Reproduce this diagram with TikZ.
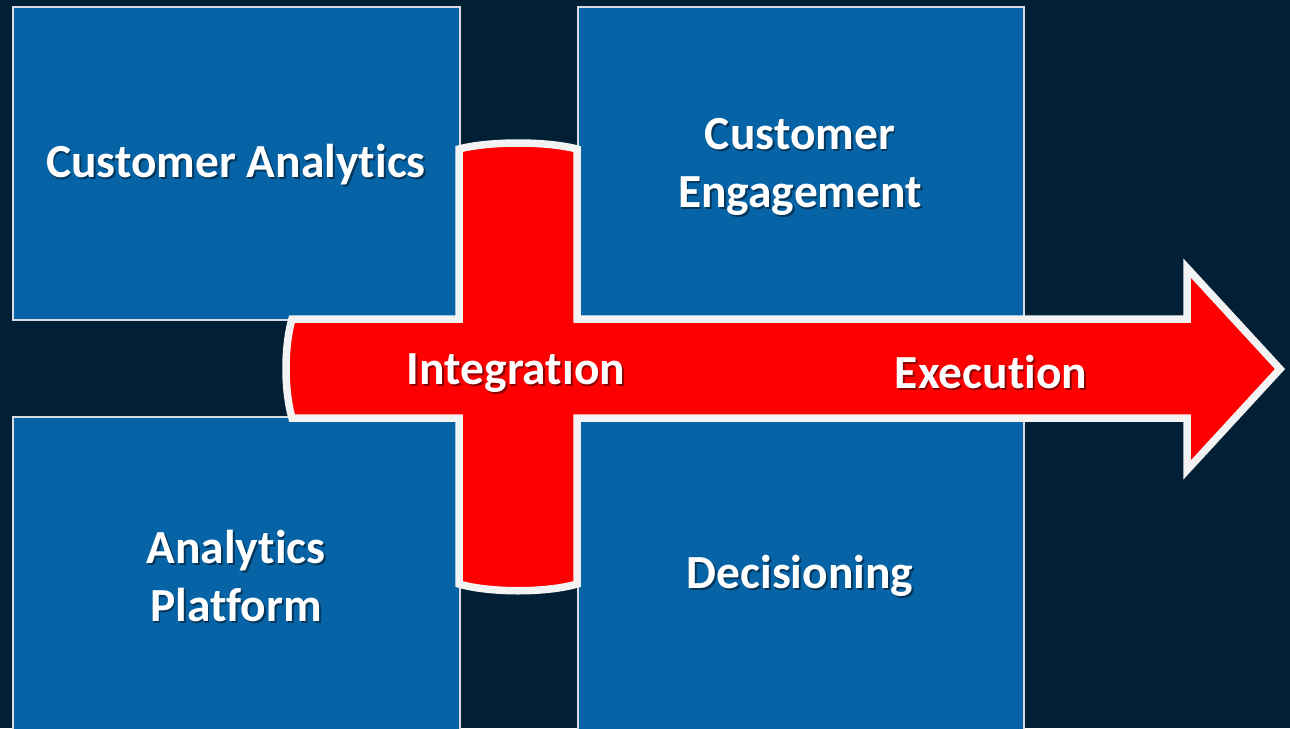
\documentclass[tikz,border=0pt]{standalone}
\usepackage{fontspec}
\setmainfont[Ligatures=NoCommon]{Carlito}
\definecolor{bgnavy}{RGB}{1,32,54}
\definecolor{boxblue}{RGB}{5,99,166}
\definecolor{boxedge}{RGB}{215,220,228}
\definecolor{crossred}{RGB}{255,0,0}
\definecolor{crossedge}{RGB}{243,243,243}
\begin{document}
\begin{tikzpicture}[x=1pt,y=-1pt,
  box/.style={draw=boxedge, line width=1.6pt, fill=boxblue, inner sep=0pt, anchor=north west},
  lbl/.style={text=white, font=\fontsize{47.5}{58}\selectfont\bfseries, align=center},
  shd/.style={text=black, opacity=0.45, font=\fontsize{47.5}{58}\selectfont\bfseries, align=center, xshift=1.8pt, yshift=-2pt},
  crossshape/.style={fill=crossred, draw=crossedge, line width=7.5pt, line join=miter}]
\useasboundingbox (0,0) rectangle (1290,728);
\fill[bgnavy] (0,0) rectangle (1290,728);
% boxes
\node[box, minimum width=447pt, minimum height=313pt] (ca) at (12,6) {};
\node[box, minimum width=446pt, minimum height=311pt] (ce) at (577,6) {};
\node[box, minimum width=447pt, minimum height=320pt] (ap) at (12,416) {};
\node[box, minimum width=446pt, minimum height=316pt] (de) at (577,420) {};
% cross + arrow
\draw[crossshape] (292,319) -- (459,319) -- (459,149)
  .. controls (490,141) and (546,141) .. (577,149)
  -- (577,319) -- (1187,319) -- (1187,268) -- (1280,369) -- (1187,470) -- (1187,418)
  -- (577,418) -- (577,584)
  .. controls (546,593) and (490,593) .. (459,584)
  -- (459,418) -- (292,418)
  .. controls (284,390) and (284,347) .. cycle;
% labels
\coordinate (pca) at (236,165);
\coordinate (pce) at (800,167);
\coordinate (pap) at (236,576);
\coordinate (pde) at (800,576);
\coordinate (pin) at (516,373);
\coordinate (pex) at (991,372);
\node[shd] at (pca) {Customer Analytics};
\node[lbl] (tca) at (pca) {Customer Analytics};
\node[shd] at (pce) {Customer\\Engagement};
\node[lbl] (tce) at (pce) {Customer\\Engagement};
\node[shd] at (pap) {Analytics\\Platform};
\node[lbl] (tap) at (pap) {Analytics\\Platform};
\node[shd] at (pde) {Decisioning};
\node[lbl] (tde) at (pde) {Decisioning};
\node[shd] at (pin) {Integratıon};
\node[lbl] (tin) at (pin) {Integratıon};
\node[shd] at (pex) {Execution};
\node[lbl] (tex) at (pex) {Execution};
\end{tikzpicture}
\end{document}
